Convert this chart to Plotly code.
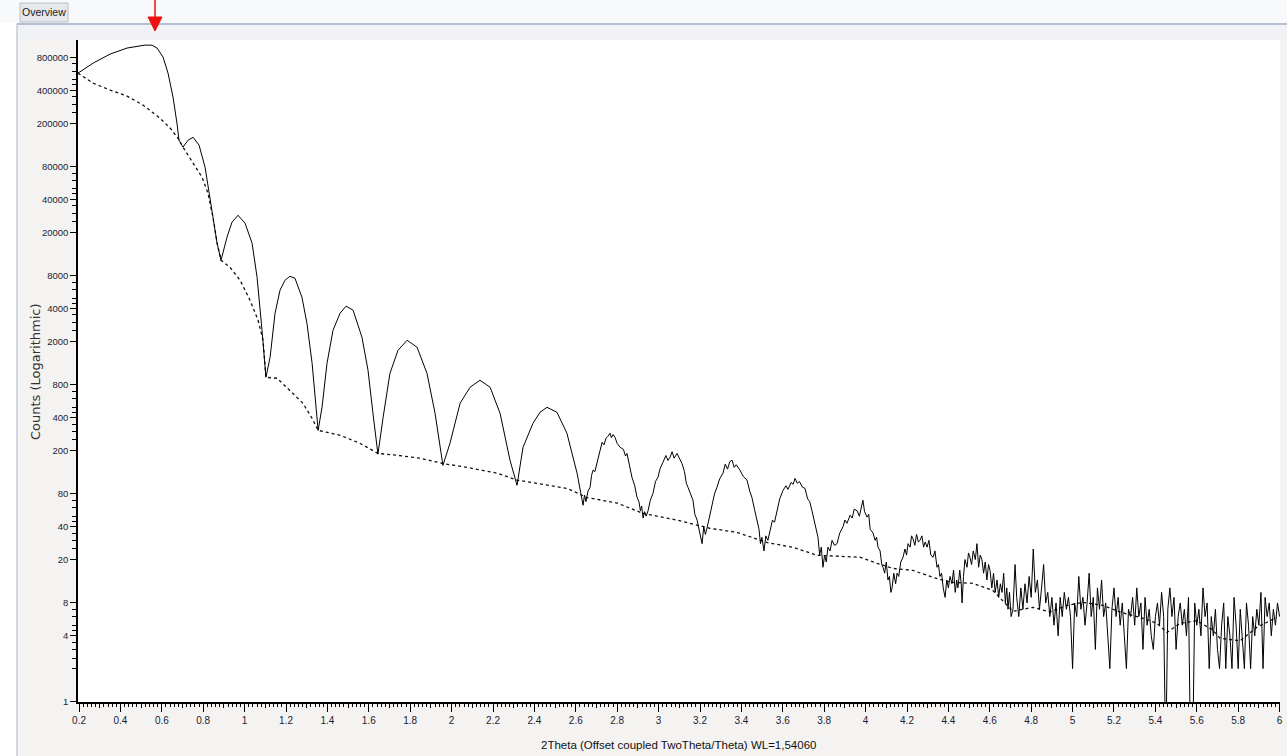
import numpy as np
import plotly.graph_objects as go

# ---------------- data ----------------
# measured curve, low-angle part (non-uniform steps)
two_theta_low = [0.195, 0.268, 0.350, 0.432, 0.519, 0.553, 0.577, 0.606, 0.630, 0.654,
                 0.673, 0.683, 0.702, 0.727, 0.751, 0.780, 0.809, 0.828, 0.847, 0.867,
                 0.886, 0.915, 0.939, 0.968, 1.002, 1.036, 1.060, 1.084, 1.103, 1.123,
                 1.147, 1.171, 1.195, 1.219, 1.243, 1.277, 1.301, 1.326, 1.340, 1.355,
                 1.374, 1.398, 1.427, 1.461, 1.490, 1.524, 1.567, 1.596, 1.620, 1.644,
                 1.669, 1.702, 1.741, 1.785, 1.833, 1.881, 1.920, 1.944, 1.958, 1.992,
                 2.041, 2.089, 2.137, 2.186, 2.234, 2.282, 2.316, 2.345, 2.393, 2.427,
                 2.461, 2.509, 2.557, 2.606]
counts_low = [577000, 713000, 863000, 980000, 1043000, 1040000, 980000, 809000, 577000, 348000,
              201000, 140000, 121000, 140000, 149000, 126000, 79000, 48800, 27600, 15900,
              11100, 18100, 24800, 28700, 24300, 15900, 7760, 2530, 938, 1430,
              3630, 5900, 7280, 7920, 7600, 5080, 2940, 1260, 615, 306,
              498, 1260, 2530, 3630, 4210, 3870, 2180, 1090, 439, 185,
              403, 1020, 1660, 2050, 1770, 1020, 439, 223, 146, 233,
              542, 760, 881, 760, 439, 163, 96, 214, 355, 448,
              498, 448, 288, 124]

# measured curve, middle part (fringes with visible noise)
two_theta_mid = [2.635, 2.642, 2.649, 2.659, 2.669, 2.676, 2.683, 2.692, 2.702, 2.714,
                 2.727, 2.736, 2.746, 2.755, 2.765, 2.772, 2.780, 2.789, 2.800, 2.814,
                 2.830, 2.840, 2.847, 2.858, 2.871, 2.884, 2.896, 2.905, 2.912, 2.918,
                 2.925, 2.932, 2.940, 2.949, 2.960, 2.973, 2.985, 2.997, 3.008, 3.021,
                 3.035, 3.045, 3.055, 3.065, 3.075, 3.089, 3.100, 3.113, 3.125, 3.134,
                 3.142, 3.155, 3.166, 3.175, 3.186, 3.195, 3.202, 3.210, 3.218, 3.226,
                 3.234, 3.245, 3.258, 3.270, 3.282, 3.295, 3.311, 3.322, 3.333, 3.344,
                 3.355, 3.365, 3.375, 3.393, 3.410, 3.427, 3.440, 3.451, 3.463, 3.475,
                 3.485, 3.492, 3.499, 3.509, 3.518, 3.528, 3.538, 3.550, 3.560, 3.572,
                 3.585, 3.601, 3.615, 3.625, 3.640, 3.650, 3.659, 3.670, 3.680, 3.695,
                 3.707, 3.720, 3.730, 3.741, 3.752, 3.760, 3.770, 3.778, 3.786, 3.794,
                 3.802, 3.810, 3.818, 3.828, 3.838, 3.850, 3.862, 3.875, 3.891, 3.900,
                 3.910, 3.925, 3.935, 3.945, 3.959, 3.970, 3.980, 3.987, 3.995, 4.007,
                 4.015, 4.022, 4.036, 4.046, 4.053, 4.060, 4.070, 4.078, 4.084, 4.092,
                 4.100, 4.108, 4.115, 4.122, 4.128, 4.136, 4.145, 4.152, 4.160, 4.170,
                 4.181, 4.190, 4.198, 4.205, 4.215, 4.222, 4.229, 4.238, 4.246, 4.255,
                 4.263, 4.272, 4.280, 4.288, 4.297, 4.306, 4.315, 4.326, 4.335, 4.345,
                 4.352, 4.359, 4.367, 4.375, 4.384, 4.392, 4.400, 4.408, 4.417, 4.425,
                 4.433, 4.440, 4.446, 4.455, 4.462, 4.466, 4.473, 4.480, 4.490, 4.497,
                 4.504, 4.512, 4.520, 4.530, 4.538, 4.546, 4.554, 4.562, 4.570, 4.578,
                 4.586, 4.594, 4.601, 4.610, 4.618, 4.626, 4.635, 4.643, 4.651, 4.659,
                 4.667, 4.675, 4.682, 4.688, 4.695, 4.703, 4.712, 4.722]
counts_mid = [63, 78, 68, 85, 92, 118, 132, 128, 152, 190,
              238, 225, 259, 270, 288, 262, 280, 264, 232, 214,
              205, 178, 188, 150, 114, 96, 74, 68, 56, 62,
              48, 55, 50, 56, 70, 81, 104, 114, 138, 156,
              180, 162, 173, 195, 170, 188, 172, 152, 128, 100,
              92, 78, 70, 52, 46, 38, 32, 28, 40, 34,
              39, 48, 60, 80, 92, 110, 124, 150, 135, 158,
              163, 140, 148, 132, 115, 107, 85, 74, 58, 46,
              38, 28, 32, 24, 33, 30, 37, 46, 44, 56,
              72, 86, 95, 88, 102, 98, 111, 100, 104, 92,
              90, 72, 68, 56, 46, 38, 32, 22, 26, 17,
              22, 19, 26, 24, 30, 27, 28, 35, 40, 46,
              43, 51, 48, 58, 56, 50, 62, 70, 55, 49,
              52, 38, 35, 30, 32, 26, 24, 18, 17, 15,
              19, 13, 14, 10, 11, 15, 12, 15, 14, 19,
              21, 25, 22, 28, 26, 33, 31, 27, 34, 29,
              30, 33, 26, 29, 26, 30, 22, 21, 24, 17,
              18, 14, 15, 11, 9, 13, 11, 14, 12, 16,
              10, 13, 11, 16, 12, 8, 14, 20, 17, 23,
              21, 18, 24, 20, 28, 17, 22, 20, 15, 19,
              13, 18, 16, 11, 15, 10, 13, 9, 12, 10,
              15, 8, 11, 7, 10, 6, 7, 18]

# measured curve, high-angle part (0.01 steps, low counts; 0 = empty channel)
two_theta_high = np.round(np.arange(4.73, 6.0001, 0.01), 2)
counts_high = [9, 6, 11, 7, 12, 8, 14, 9, 25, 10,
               13, 7, 11, 18, 8, 10, 6, 9, 5, 8,
               4, 9, 6, 10, 7, 9, 6, 2, 8, 6,
               14, 7, 9, 5, 8, 15, 6, 9, 3, 11,
               7, 13, 6, 8, 4, 2, 7, 11, 6, 9,
               5, 8, 4, 2, 7, 6, 9, 5, 11, 6,
               8, 3, 9, 5, 7, 4, 3, 6, 8, 5,
               10, 6, 0, 7, 11, 6, 9, 3, 6, 8,
               5, 7, 4, 9, 0, 0, 8, 5, 7, 4,
               11, 6, 8, 2, 6, 4, 7, 3, 2, 5,
               8, 2, 6, 4, 2, 9, 5, 2, 7, 4,
               2, 8, 5, 2, 6, 4, 7, 5, 10, 2,
               9, 6, 8, 4, 7, 5, 8, 6]

# fitted / simulated curve (dashed)
two_theta_fit = [0.195, 0.268, 0.350, 0.432, 0.509, 0.591, 0.640, 0.678, 0.702, 0.751,
                 0.794, 0.823, 0.847, 0.867, 0.886, 0.929, 0.978, 1.026, 1.065, 1.089,
                 1.103, 1.157, 1.219, 1.282, 1.326, 1.355, 1.461, 1.557, 1.644, 1.736,
                 1.847, 1.958, 2.074, 2.219, 2.316, 2.461, 2.557, 2.654, 2.799, 2.925,
                 3.089, 3.248, 3.379, 3.523, 3.649, 3.765, 3.891, 3.973, 4.055, 4.132,
                 4.229, 4.326, 4.408, 4.519, 4.615, 4.712, 4.760, 4.809, 4.891, 4.973,
                 5.050, 5.147, 5.229, 5.326, 5.408, 5.456, 5.519, 5.601, 5.678, 5.712,
                 5.809, 5.891, 5.987]
counts_fit = [577000, 467000, 404000, 355000, 294000, 223000, 181000, 146000, 121000, 86300,
              64200, 45800, 27600, 15900, 11100, 9590, 7280, 4780, 3130, 2050,
              938, 919, 713, 542, 394, 306, 276, 233, 188, 181,
              170, 152, 140, 124, 107, 96, 90, 74, 66, 53,
              46, 38.7, 35.5, 28.7, 25.9, 21.9, 21.4, 21, 18.5, 16.6,
              15.9, 13.7, 12.4, 12.1, 10.4, 6.7, 7.0, 7.3, 6.6, 7.6,
              8.1, 7.6, 6.6, 5.9, 5.2, 4.3, 5.2, 5.5, 4.5, 3.8,
              3.6, 4.8, 5.9]

# axis ticks
x_tick_vals = [round(0.2 * k, 1) for k in range(1, 31)]
x_tick_text = [("%g" % v) for v in x_tick_vals]
x_mid_tick_vals = [round(0.1 + 0.2 * k, 1) for k in range(0, 30)]
y_tick_vals = [1, 4, 8, 20, 40, 80, 200, 400, 800, 2000, 4000, 8000,
               20000, 40000, 80000, 200000, 400000, 800000]
y_tick_text = [str(v) for v in y_tick_vals]
y_minor_digits = [2, 2.5, 3, 3.5, 4.5, 5, 6, 7]

x_title = "2Theta (Offset coupled TwoTheta/Theta) WL=1,54060"
y_title = "Counts (Logarithmic)"

# ---------------- figure ----------------
W, H = 1287, 756
L, R, T, B = 78, 7, 40, 54
pw, ph = W - L - R, H - T - B


def px(x):
    return (x - L) / pw


def py(y):
    return (H - B - y) / ph


measured_x = list(two_theta_low) + list(two_theta_mid) + list(two_theta_high)
measured_y = list(counts_low) + list(counts_mid) + list(counts_high)
measured_y = [c if c > 0 else 0.3 for c in measured_y]  # empty channels drawn to the bottom

y_minor_vals = [d * 10 ** n for n in range(0, 7) for d in y_minor_digits
                if d * 10 ** n not in y_tick_vals]

narrow = "Liberation Sans Narrow, Arial Narrow, Liberation Sans, Arial, sans-serif"
tick_color = "#1b1b30"

fig = go.Figure()
fig.add_trace(go.Scatter(x=two_theta_fit, y=counts_fit, mode="lines",
                         line=dict(color="#111111", width=1.3, dash="3px,3px"),
                         hoverinfo="skip"))
fig.add_trace(go.Scatter(x=measured_x, y=measured_y, mode="lines",
                         line=dict(color="#000000", width=1), hoverinfo="skip"))
fig.add_trace(go.Scatter(x=[None], y=[None], xaxis="x2", showlegend=False))

fig.update_layout(
    width=W, height=H,
    margin=dict(l=L, r=R, t=T, b=B, autoexpand=False),
    paper_bgcolor="#f4f3f1", plot_bgcolor="#ffffff",
    showlegend=False,
    xaxis=dict(range=[0.195, 6.002], showgrid=False, zeroline=False,
               showline=True, linecolor="#000000", linewidth=1.5,
               ticks="outside", ticklen=8, tickwidth=1, tickcolor="#000000",
               tickmode="array", tickvals=x_tick_vals, ticktext=x_tick_text,
               tickfont=dict(family=narrow, size=10, color=tick_color),
               minor=dict(dtick=0.02, tick0=0, ticks="outside", ticklen=3,
                          tickcolor="#000000", tickwidth=1, showgrid=False),
               automargin=False),
    xaxis2=dict(overlaying="x", anchor="y", side="bottom", matches="x",
                range=[0.195, 6.002], showgrid=False, zeroline=False, showline=False,
                ticks="outside", ticklen=5, tickwidth=1, tickcolor="#000000",
                tickmode="array", tickvals=x_mid_tick_vals, showticklabels=False),
    yaxis=dict(type="log", range=[-0.005, 6.065], showgrid=False, zeroline=False,
               showline=True, linecolor="#000000", linewidth=1.5,
               ticks="outside", ticklen=6, tickwidth=1, tickcolor="#000000",
               tickmode="array", tickvals=y_tick_vals, ticktext=y_tick_text,
               tickfont=dict(family=narrow, size=9.5, color=tick_color),
               minor=dict(tickmode="array", tickvals=y_minor_vals, ticks="outside",
                          ticklen=4, tickcolor="#000000", tickwidth=1, showgrid=False),
               automargin=False),
)

shapes = [
    # top strip
    dict(type="rect", xref="paper", yref="paper", x0=px(0), x1=px(W), y0=py(0), y1=py(23),
         fillcolor="#f8f9fb", line=dict(width=0), layer="below"),
    # strip between border and plot
    dict(type="rect", xref="paper", yref="paper", x0=px(17), x1=px(W), y0=py(25), y1=py(39),
         fillcolor="#f1f2f5", line=dict(width=0), layer="below"),
    # white left margin
    dict(type="rect", xref="paper", yref="paper", x0=px(0), x1=px(16.5), y0=py(23), y1=py(H),
         fillcolor="#ffffff", line=dict(width=0), layer="below"),
    # panel border lines
    dict(type="line", xref="paper", yref="paper", x0=px(17), x1=px(W), y0=py(24), y1=py(24),
         line=dict(color="#b4c0d0", width=2), layer="below"),
    dict(type="line", xref="paper", yref="paper", x0=px(17), x1=px(17), y0=py(24), y1=py(H),
         line=dict(color="#c3ccd8", width=1.5), layer="below"),
    # Overview tab
    dict(type="rect", xref="paper", yref="paper", x0=px(20), x1=px(68), y0=py(3), y1=py(22),
         fillcolor="#e6e8eb", line=dict(color="#b8bfc8", width=1), layer="below"),
    # red marker arrow
    dict(type="line", xref="paper", yref="paper", x0=px(155), x1=px(155), y0=py(0), y1=py(18),
         line=dict(color="#ee1111", width=1.5)),
    dict(type="path", xref="paper", yref="paper",
         path="M %f,%f L %f,%f L %f,%f Z" % (px(148), py(17), px(162), py(17), px(155), py(31)),
         fillcolor="#ee1111", line=dict(color="#ee1111", width=1)),
]
fig.update_layout(shapes=shapes)

fig.add_annotation(xref="paper", yref="paper", x=px(44), y=py(12.5), text="Overview",
                   showarrow=False, font=dict(family=narrow, size=10.5, color="#222222"),
                   xanchor="center", yanchor="middle")
fig.add_annotation(xref="paper", yref="paper", x=px(678), y=py(745), text=x_title,
                   showarrow=False, font=dict(family=narrow, size=11.5, color="#111111"),
                   xanchor="center", yanchor="middle")
fig.add_annotation(xref="paper", yref="paper", x=px(35), y=py(372), text=y_title,
                   textangle=-90, showarrow=False,
                   font=dict(family="DejaVu Sans, Liberation Sans, Arial", size=13,
                             color="#333333"),
                   xanchor="center", yanchor="middle")

fig.write_html("out.html", config={"displayModeBar": False},
               post_script="document.body.style.margin='0';document.body.style.overflow='hidden';")
